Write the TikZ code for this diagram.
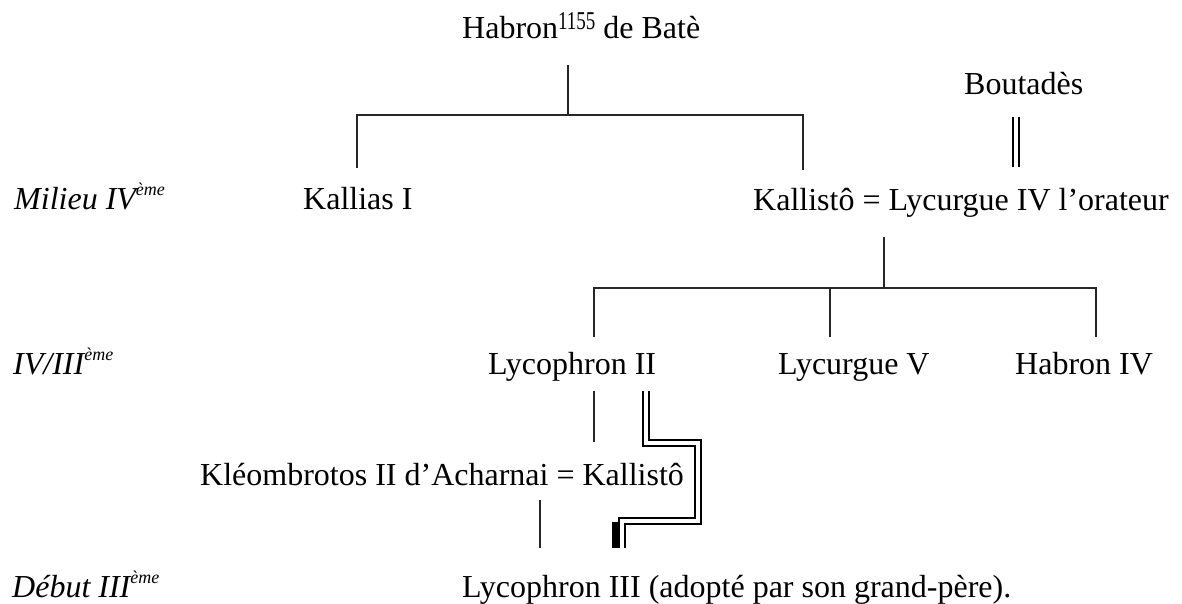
\documentclass[tikz,border=0pt]{standalone}
\usepackage{fontspec}
\usepackage{graphicx}
\setmainfont{Liberation Serif}
\newcommand\numsup[1]{\raisebox{9pt}{\scalebox{1}[1.35]{\fontsize{19}{19}\selectfont #1}}}
\newcommand\erasup[1]{\raisebox{14pt}{\fontsize{18}{18}\selectfont #1}}
\begin{document}
\begin{tikzpicture}[x=1pt,y=-1pt,
  lbl/.style={anchor=base west, inner sep=0pt, font=\fontsize{32}{38}\selectfont},
  era/.style={anchor=base west, inner sep=0pt, font=\fontsize{32}{38}\selectfont\itshape},
  link/.style={draw=black!85, line width=1.6pt},
  marriage/.style={draw=black, line width=1.8pt, double=white, double distance=4pt}]
\useasboundingbox (0,0) rectangle (1182,604);

% texts
\node[lbl] (habron) at (462,39) {Habron\numsup{1155} de Batè};
\node[lbl] (boutades) at (964,95) {Boutadès};
\node[era] (milieu) at (14,209) {Milieu IV\erasup{ème}};
\node[lbl] (kallias) at (303,209) {Kallias I};
\node[lbl] (lycurgue4) at (753,210) {Kallistô = Lycurgue IV l'orateur};
\node[era] (ivIII) at (13,374) {IV/III\erasup{ème}};
\node[lbl] (lycophron2) at (488,374) {Lycophron II};
\node[lbl] (lycurgue5) at (778,374) {Lycurgue V};
\node[lbl] (habron4) at (1015,374) {Habron IV};
\node[lbl] (kleombrotos) at (200,485) {Kléombrotos II d'Acharnai = Kallistô};
\node[era] (debut) at (12,597) {Début III\erasup{ème}};
\node[lbl] (lycophron3) at (462,597) {Lycophron III (adopté par son grand-père).};

% connector points
\coordinate (hA) at (568,65);
\coordinate (hB) at (568,115);
\coordinate (kA) at (357,168);
\coordinate (kB) at (357,115);
\coordinate (lA) at (803,115);
\coordinate (lB) at (803,170);
\coordinate (bA) at (1016,117);
\coordinate (bB) at (1016,167);
\coordinate (gA) at (884,237);
\coordinate (gB) at (884,288);
\coordinate (cA) at (594,337);
\coordinate (cB) at (594,288);
\coordinate (cC) at (1096,288);
\coordinate (cD) at (1096,337);
\coordinate (cE) at (830,288);
\coordinate (cF) at (830,337);
\coordinate (dA) at (594,391);
\coordinate (dB) at (594,442);
\coordinate (eA) at (540,500);
\coordinate (eB) at (540,548);
\coordinate (mA) at (646,391);
\coordinate (mB) at (646,443);
\coordinate (mC) at (698,443);
\coordinate (mD) at (698,521);
\coordinate (mE) at (622,521);
\coordinate (mF) at (622,548);

% connectors
\draw[link] (hA) -- (hB);
\draw[link] (kA) -- (kB) -- (lA) -- (lB);
\draw[marriage] (bA) -- (bB);
\draw[link] (gA) -- (gB);
\draw[link] (cA) -- (cB) -- (cC) -- (cD);
\draw[link] (cE) -- (cF);
\draw[link] (dA) -- (dB);
\draw[link] (eA) -- (eB);
\draw[marriage] (mA) -- (mB) -- (mC) -- (mD) -- (mE) -- (mF);
\fill[black] (612,522) rectangle (620,548);
\end{tikzpicture}
\end{document}
